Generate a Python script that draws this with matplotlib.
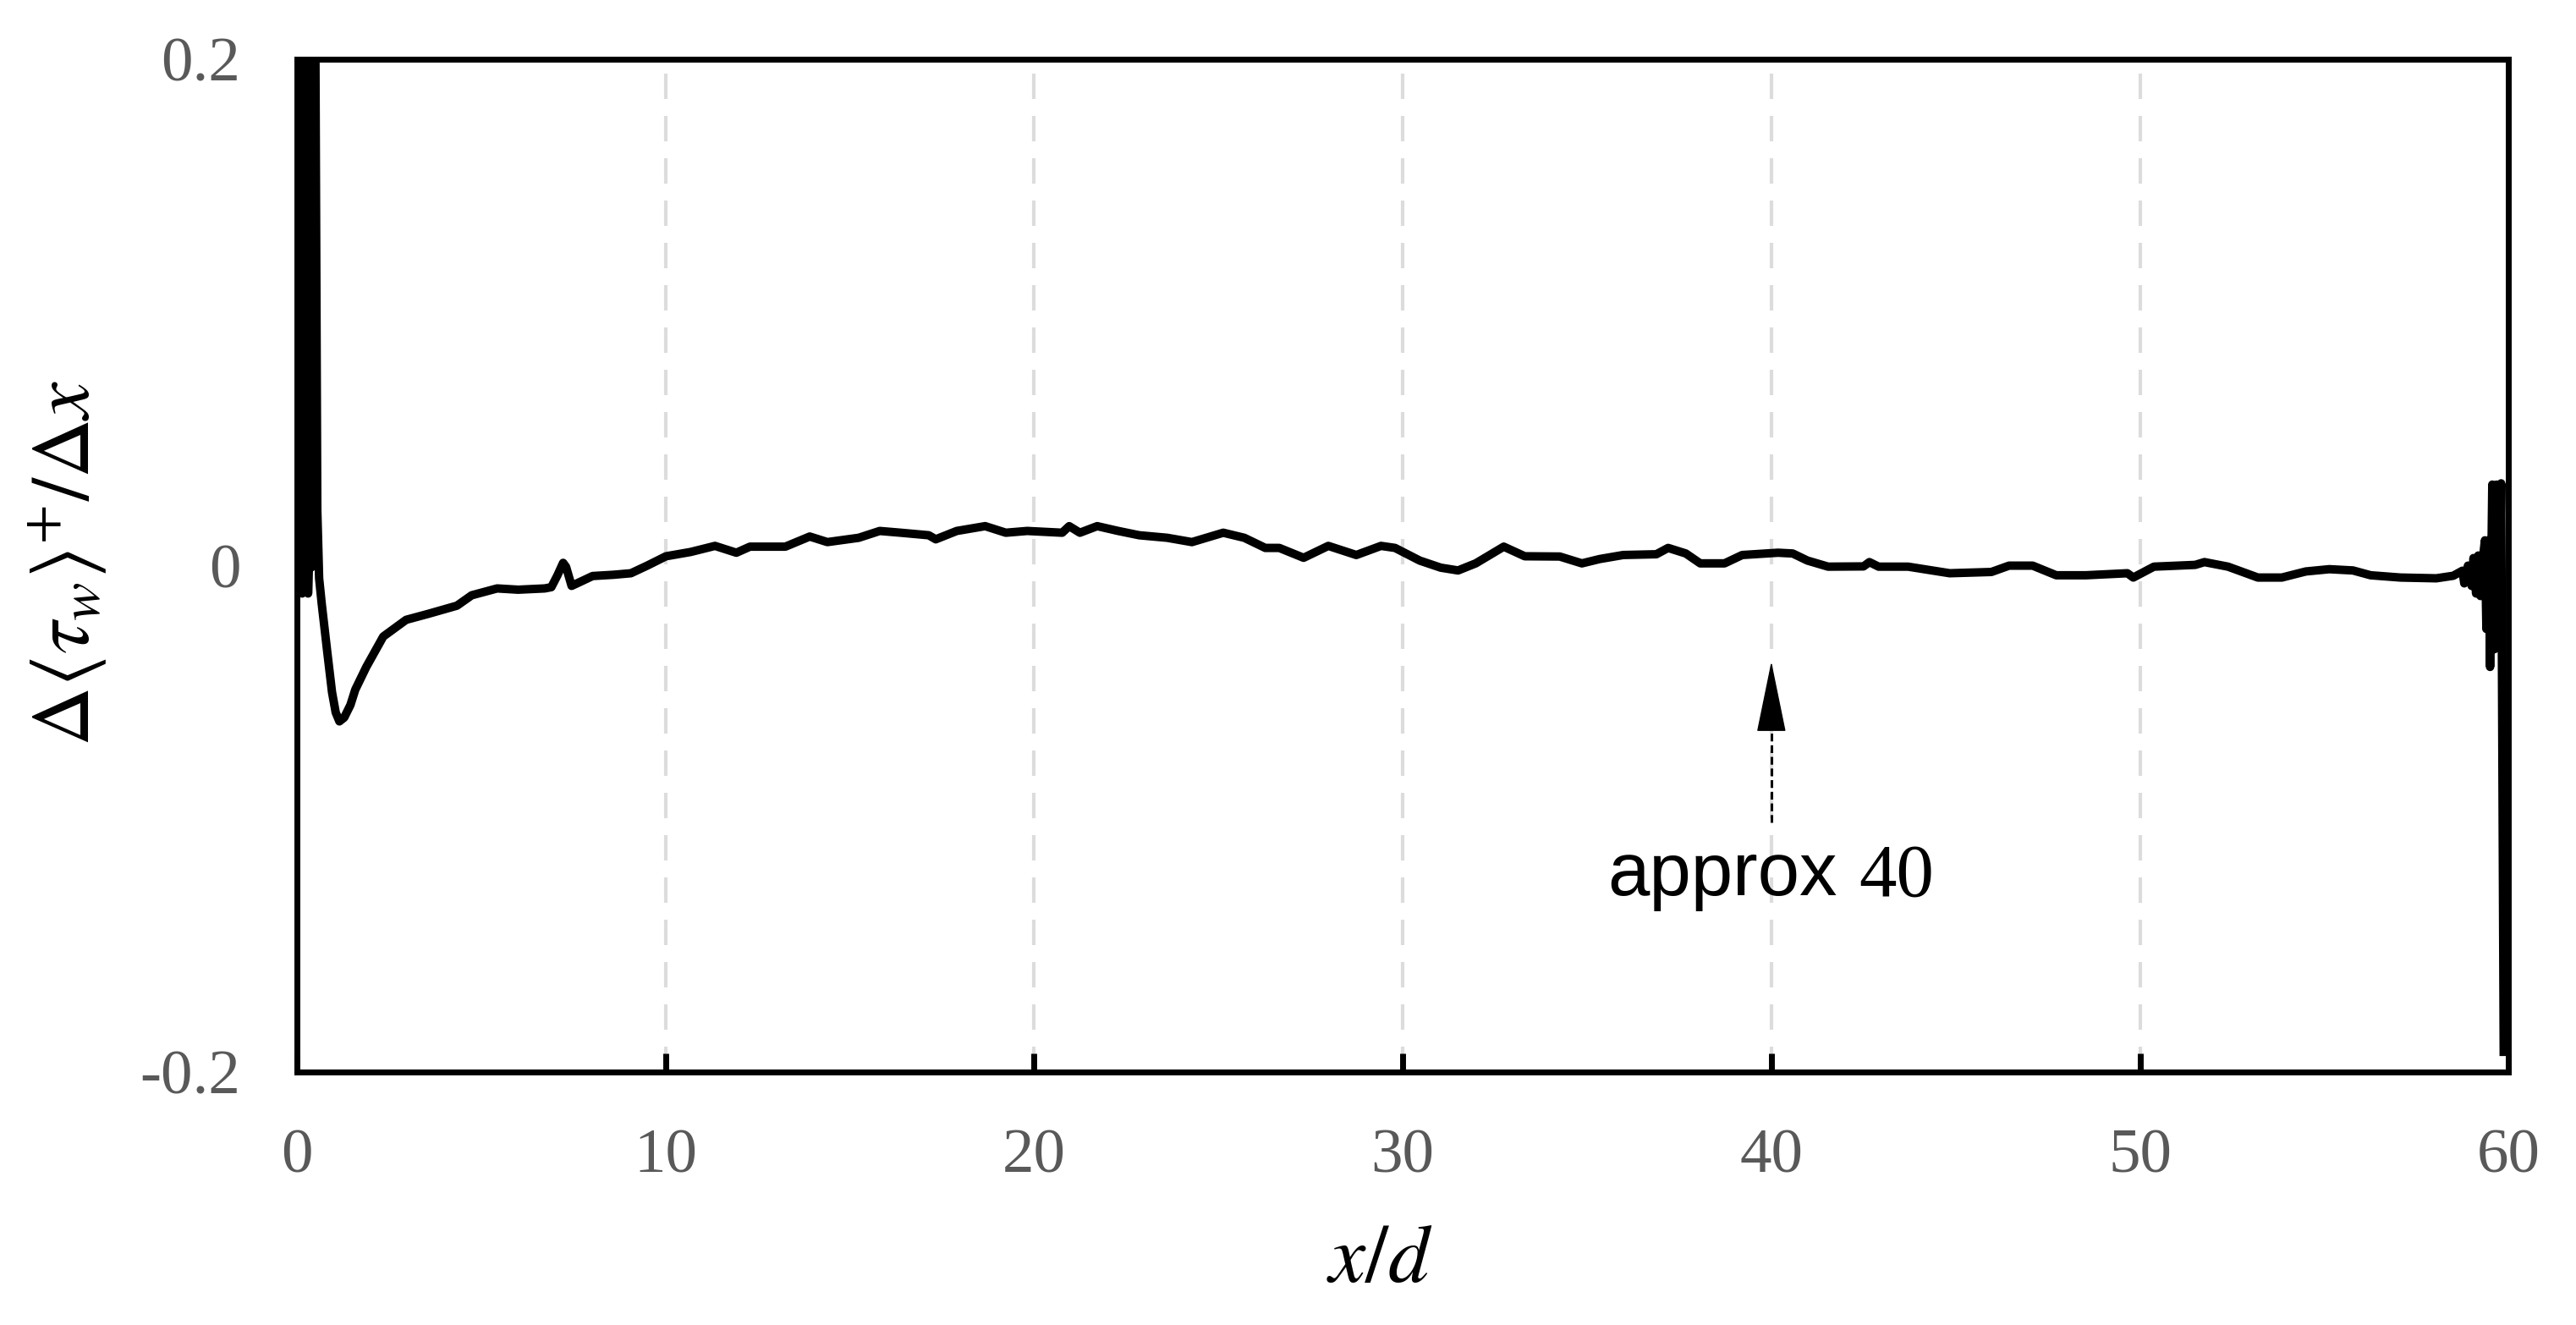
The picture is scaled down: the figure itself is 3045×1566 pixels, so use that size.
import matplotlib.pyplot as plt
import numpy as np

# x/d positions and wall shear stress gradient
x_d = [0.05, 0.09, 0.14, 0.22, 0.30, 0.32, 0.39, 0.40, 0.47, 0.50,
       0.55, 0.60, 0.67, 0.82, 0.95, 1.05, 1.15, 1.28, 1.45, 1.58,
       1.88, 2.34, 2.96, 3.57, 4.34, 4.74, 5.43, 6.00, 6.72, 6.90,
       7.06, 7.22, 7.30, 7.45, 8.02, 8.59, 9.06, 9.50, 10.01, 10.68,
       11.34, 11.92, 12.29, 13.25, 13.91, 14.39, 15.24, 15.81, 16.38, 17.14,
       17.33, 17.90, 18.67, 19.23, 19.81, 20.76, 20.95, 21.24, 21.71, 22.28,
       22.85, 23.61, 24.28, 25.13, 25.70, 26.27, 26.65, 27.31, 27.98, 28.74,
       29.41, 29.79, 30.46, 31.03, 31.50, 31.98, 32.74, 33.31, 34.26, 34.86,
       35.34, 35.98, 36.88, 37.20, 37.68, 38.07, 38.73, 39.21, 40.18, 40.58,
       40.98, 41.54, 42.50, 42.66, 42.91, 43.71, 44.36, 44.84, 45.97, 46.45,
       47.09, 47.73, 48.53, 49.66, 49.82, 50.38, 51.50, 51.75, 52.39, 53.20,
       53.85, 54.50, 55.14, 55.78, 56.26, 57.07, 58.04, 58.50, 58.75, 58.80,
       58.90, 59.00, 59.05, 59.12, 59.18, 59.24, 59.30, 59.36, 59.40, 59.46,
       59.50, 59.56, 59.62, 59.68, 59.74, 59.80, 59.87]

dtau_dx = [-0.004, 0.30, -0.011, 0.30, -0.011, -0.0007, -0.0007, 0.30, 0.30, 0.20,
           0.022, -0.005, -0.015, -0.034, -0.050, -0.058, -0.0615, -0.060, -0.055, -0.049,
           -0.040, -0.028, -0.0214, -0.019, -0.0158, -0.0117, -0.009, -0.0095, -0.009, -0.0085,
           -0.004, 0.0011, -0.0005, -0.008, -0.0041, -0.0036, -0.0030, 0.0, 0.0037, 0.0054,
           0.0078, 0.0051, 0.0075, 0.0075, 0.0115, 0.0093, 0.011, 0.0137, 0.013, 0.012,
           0.0104, 0.0137, 0.0156, 0.013, 0.0137, 0.013, 0.0156, 0.013, 0.0156, 0.0137,
           0.012, 0.011, 0.0093, 0.013, 0.011, 0.007, 0.007, 0.0031, 0.0078, 0.0042,
           0.0078, 0.007, 0.002, -0.0008, -0.0019, 0.0009, 0.0075, 0.0037, 0.0036, 0.0009,
           0.0026, 0.0042, 0.0045, 0.007, 0.0048, 0.0009, 0.0009, 0.0042, 0.0051, 0.0048,
           0.002, -0.0004, -0.0003, 0.0014, -0.0004, -0.0004, -0.0019, -0.003, -0.0025, 0.0,
           0.0, -0.0038, -0.0038, -0.003, -0.0047, -0.0004, 0.0003, 0.0014, -0.0004, -0.0047,
           -0.0047, -0.0023, -0.0014, -0.0019, -0.0038, -0.0047, -0.005, -0.004, -0.002, -0.007,
           0.0, -0.008, 0.003, -0.011, 0.004, -0.012, 0.002, 0.010, -0.025, 0.010,
           -0.040, 0.032, -0.033, 0.032, -0.030, 0.0325, -0.192]

x_ticks = [0, 10, 20, 30, 40, 50, 60]
y_ticks = [-0.2, 0, 0.2]
y_tick_labels = ["-0.2", "0", "0.2"]

plt.rcParams["mathtext.fontset"] = "stix"

fig = plt.figure(figsize=(3045 / 200, 1566 / 200), dpi=200)
ax = fig.add_axes([0.1153, 0.1909, 0.8585, 0.7644])

# dashed vertical grid
for xv in x_ticks[1:-1]:
    ax.axvline(xv, color="#dcdcdc", lw=1.5, linestyle=(0, (7.2, 4.8)), zorder=0)

ax.plot(x_d, dtau_dx, color="black", lw=3.6, solid_joinstyle="round", zorder=3)

ax.set_xlim(0, 60)
ax.set_ylim(-0.2, 0.2)
ax.set_xticks(x_ticks)
ax.set_xticklabels([str(v) for v in x_ticks])
ax.set_yticks(y_ticks)
ax.set_yticklabels(y_tick_labels)

for s in ax.spines.values():
    s.set_linewidth(2.5)
    s.set_zorder(4)

ax.tick_params(axis="x", direction="in", length=8, width=2.5, pad=24,
               labelsize=27, labelcolor="#595959")
ax.tick_params(axis="y", length=0, pad=24, labelsize=27, labelcolor="#595959")
for lab in ax.get_xticklabels() + ax.get_yticklabels():
    lab.set_fontfamily("Liberation Serif")

fig.text(0.0263, 0.575, r"$\Delta\langle\tau_w\rangle^{+}/\Delta x$", rotation=90,
         ha="center", va="center", fontsize=35)
fig.text(0.5356, 0.0498, r"$x/d$", ha="center", va="center", fontsize=35)

# annotation at x/d = 40: dashed shaft with a solid head
ax.plot([40, 40], [-0.1014, -0.064], color="black", lw=1.1,
        linestyle=(0, (3, 1.5)), zorder=3)
ax.annotate("", xy=(40, -0.0379), xytext=(40, -0.064),
            arrowprops=dict(arrowstyle="-|>,head_length=0.4,head_width=0.082",
                            mutation_scale=70, color="black", lw=0.5,
                            shrinkA=0, shrinkB=0))
ax.text(41.79, -0.1303, "approx", ha="right", va="baseline", fontsize=32,
        family="Liberation Sans")
ax.text(42.38, -0.1303, "40", ha="left", va="baseline", fontsize=32,
        family="Liberation Serif")

fig.savefig("out.png", dpi=200)
